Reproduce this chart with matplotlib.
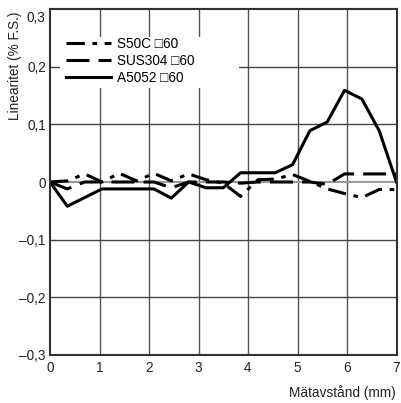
import numpy as np
import matplotlib
matplotlib.use("Agg")
import matplotlib.pyplot as plt
import matplotlib.transforms as mtransforms
from matplotlib.patches import Rectangle
from matplotlib.ticker import FuncFormatter

plt.rcParams['font.family'] = ['Liberation Sans', 'DejaVu Sans']

# Measurement positions (mm)
distance = [0.0, 0.35, 0.7, 1.05, 1.4, 1.75, 2.1, 2.45, 2.8, 3.15, 3.5,
            3.85, 4.2, 4.55, 4.9, 5.25, 5.6, 5.95, 6.3, 6.65, 7.0]

# Linearity (% F.S.) per target material
s50c = [0.0, 0.002, 0.014, 0.0, 0.015, 0.002, 0.015, 0.002, 0.014, 0.004, -0.002,
        -0.025, 0.004, 0.005, 0.013, 0.001, -0.012, -0.02, -0.027, -0.013, -0.013]
sus304 = [0.0, -0.012, 0.0, 0.0, 0.0, 0.0, 0.0, -0.01, 0.0, 0.0, 0.0,
          -0.002, 0.0, 0.0, 0.0, 0.0, -0.004, 0.014, 0.014, 0.014, 0.014]
a5052 = [0.0, -0.042, -0.027, -0.012, -0.012, -0.012, -0.012, -0.028, 0.0, -0.01, -0.01,
         0.016, 0.016, 0.016, 0.03, 0.089, 0.104, 0.159, 0.144, 0.089, 0.0]

labels = ["S50C \u25a160", "SUS304 \u25a160", "A5052 \u25a160"]
x_ticks = [0, 1, 2, 3, 4, 5, 6, 7]
y_ticks = [-0.3, -0.2, -0.1, 0.0, 0.1, 0.2, 0.3]

W, H = 401, 403
fig = plt.figure(figsize=(W / 100, H / 100), dpi=100)
ax = fig.add_axes([50 / W, 1 - 355 / H, 346.5 / W, 346 / H])

ax.set_xlim(0, 7)
ax.set_ylim(-0.3, 0.3)
ax.set_xticks(x_ticks)
ax.set_yticks(y_ticks)

for xv in x_ticks[1:-1]:
    ax.axvline(xv, color='#555555', lw=1.0, zorder=1)
for yv in y_ticks[1:-1]:
    if yv == 0:
        ax.axhline(yv, color='#999999', lw=1.5, zorder=1)
    else:
        ax.axhline(yv, color='#444444', lw=1.0, zorder=1)

# white panel behind the legend, hiding the grid there
ax.add_patch(Rectangle((60 / W, 1 - 88 / H), 179 / W, 51 / H,
                       transform=fig.transFigure, facecolor='white',
                       edgecolor='none', zorder=2))

lw = 2.2
l1, = ax.plot(distance, s50c, color='black', lw=lw, dashes=(6, 2.5, 1.5, 2.5), zorder=3)
l2, = ax.plot(distance, sus304, color='black', lw=lw, dashes=(7.5, 3), zorder=3)
l3, = ax.plot(distance, a5052, color='black', lw=lw, zorder=4)


def comma_fmt(v, pos):
    if abs(v) < 1e-9:
        return "0"
    s = f"{abs(v):.1f}".replace('.', ',')
    return ("\u2013" + s) if v < 0 else s


fs = 9.8
ax.yaxis.set_major_formatter(FuncFormatter(comma_fmt))
ax.tick_params(length=0, labelsize=fs, colors='#222222', pad=3)
ax.tick_params(axis='x', pad=4)
for sp in ax.spines.values():
    sp.set_color('#333333')
    sp.set_linewidth(1.5)
    sp.set_zorder(5)

# keep the top y label inside the figure
fig.canvas.draw()
top_label = ax.get_yticklabels()[-1]
top_label.set_transform(top_label.get_transform() +
                        mtransforms.ScaledTranslation(0, -7 / 100, fig.dpi_scale_trans))

fig.text(15 / W, 1 - 11 / H, "Linearitet (% F.S.)", fontsize=fs, color='#222222',
         rotation=90, ha='center', va='top')
fig.text(396 / W, 1 - 393 / H, "Mätavstånd (mm)", fontsize=fs, color='#222222',
         ha='right', va='center')

leg = ax.legend([l1, l2, l3], labels, loc='upper left',
                bbox_to_anchor=(62 / W, 1 - 33 / H), bbox_transform=fig.transFigure,
                frameon=False, fontsize=fs, handlelength=3.3,
                handletextpad=0.45, labelspacing=0.2, borderpad=0.3, borderaxespad=0)
leg.set_zorder(6)

fig.savefig("out.png", dpi=100)
